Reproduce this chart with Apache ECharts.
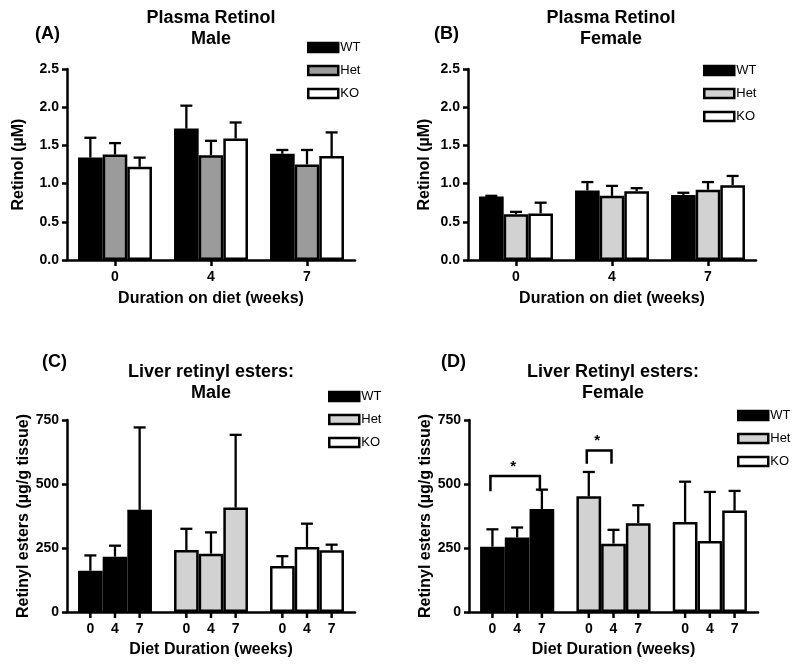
<!DOCTYPE html>
<html><head><meta charset="utf-8">
<script src="https://cdn.jsdelivr.net/npm/echarts@6/dist/echarts.min.js"></script>
<style>html,body{margin:0;padding:0;background:#fff}#c{width:800px;height:665px}</style>
</head><body><div id="c"></div>
<script>
// ---------- data ----------
const weeks = ['0', '4', '7'];
const genotypes = ['WT', 'Het', 'KO'];

// (A) Plasma retinol, male (µM): mean and SEM per week [0,4,7]
const plasmaMaleWT  = [1.34, 1.72, 1.39];
const plasmaMaleHet = [1.38, 1.37, 1.25];
const plasmaMaleKO  = [1.22, 1.59, 1.36];
const plasmaMaleWTsem  = [0.26, 0.30, 0.05];
const plasmaMaleHetsem = [0.15, 0.19, 0.19];
const plasmaMaleKOsem  = [0.12, 0.21, 0.31];

// (B) Plasma retinol, female (µM)
const plasmaFemWT  = [0.83, 0.91, 0.85];
const plasmaFemHet = [0.60, 0.84, 0.92];
const plasmaFemKO  = [0.61, 0.90, 0.98];
const plasmaFemWTsem  = [0.01, 0.11, 0.03];
const plasmaFemHetsem = [0.03, 0.13, 0.10];
const plasmaFemKOsem  = [0.14, 0.04, 0.12];

// (C) Liver retinyl esters, male (µg/g tissue) per genotype, weeks [0,4,7]
const liverMaleWT  = [161, 216, 399];
const liverMaleHet = [242, 228, 408];
const liverMaleKO  = [180, 254, 241];
const liverMaleWTsem  = [60, 43, 322];
const liverMaleHetsem = [83, 83, 284];
const liverMaleKOsem  = [38, 91, 22];

// (D) Liver retinyl esters, female (µg/g tissue)
const liverFemWT  = [255, 291, 402];
const liverFemHet = [452, 267, 347];
const liverFemKO  = [352, 277, 396];
const liverFemWTsem  = [68, 39, 76];
const liverFemHetsem = [95, 54, 70];
const liverFemKOsem  = [157, 192, 77];

// (D) significance brackets: genotype index, from week index, to week index, leg end value, bracket top value
const sigGenotype = [0, 1];
const sigFrom = [0, 0];
const sigTo = [2, 1];
const sigLeg = [472, 579];
const sigTop = [531, 631];

const plasmaTicks = [0, 0.5, 1.0, 1.5, 2.0, 2.5];
const liverTicks = [0, 250, 500, 750];

// ---------- styling ----------
const FONT = '"Liberation Sans", Arial, Helvetica, sans-serif';
const GAP = 0.23;
const DARK_HET = '#9b9b9b';
const LIGHT_HET = '#d2d2d2';
const INK = '#000';

const chart = echarts.init(document.getElementById('c'), null, {renderer: 'canvas'});

const grids = [
  {left: 67, top: 69, width: 288, height: 191},
  {left: 468, top: 69, width: 288, height: 191},
  {left: 67, top: 420, width: 288, height: 192},
  {left: 469, top: 420, width: 289, height: 192}
].map(g => Object.assign({outerBoundsMode: 'none', containLabel: false}, g));

function yAxisDef(idx, ticks, fmt, nameGap, name) {
  return {
    type: 'value', gridIndex: idx, min: ticks[0], max: ticks[ticks.length - 1],
    interval: ticks[1] - ticks[0],
    name: name, nameLocation: 'middle', nameGap: nameGap,
    nameTextStyle: {fontFamily: FONT, fontWeight: 'bold', fontSize: 16, color: INK},
    axisLine: {show: true, lineStyle: {color: INK, width: 2.5}},
    axisTick: {show: true, length: 5, lineStyle: {color: INK, width: 2.5}},
    splitLine: {show: false},
    axisLabel: {fontFamily: FONT, fontWeight: 'bold', fontSize: 14, color: INK, margin: 8, formatter: fmt}
  };
}

function xAxisDef(idx, cats, showLabels, nameGap, name) {
  return {
    type: 'category', gridIndex: idx, data: cats,
    name: name, nameLocation: 'middle', nameGap: nameGap,
    nameTextStyle: {fontFamily: FONT, fontWeight: 'bold', fontSize: 16, color: INK},
    axisLine: {show: true, onZero: false, lineStyle: {color: INK, width: 2.5}},
    axisTick: {show: showLabels, alignWithLabel: true, length: 6, lineStyle: {color: INK, width: 2.5}},
    axisLabel: {show: showLabels, fontFamily: FONT, fontWeight: 'bold', fontSize: 14, color: INK, margin: 10},
    splitLine: {show: false}
  };
}

function barX(api, cat, slot) {
  const band = api.size([1, 0])[0];
  const groupW = band * (1 - GAP);
  const bw = groupW / 3;
  return api.coord([cat, 0])[0] - groupW / 2 + bw * (slot + 0.5);
}

function errRender(withTicks) {
  return function (params, api) {
    const cat = api.value(0), slot = api.value(1), m = api.value(2), t = api.value(3);
    const x = barX(api, cat, slot);
    const yM = api.coord([cat, m])[1];
    const yT = api.coord([cat, t])[1];
    const st = {stroke: INK, lineWidth: 2.3};
    const children = [
      {type: 'line', shape: {x1: x, y1: yM, x2: x, y2: yT}, style: st},
      {type: 'line', shape: {x1: x - 6, y1: yT, x2: x + 6, y2: yT}, style: st}
    ];
    if (withTicks) {
      const y0 = api.coord([cat, 0])[1];
      children.push({type: 'line', shape: {x1: x, y1: y0, x2: x, y2: y0 + 6}, style: {stroke: INK, lineWidth: 2.5}});
    }
    return {type: 'group', children: children};
  };
}

const series = [];
const legends = [];
const borderStyle = {borderColor: INK, borderWidth: 2.5};

// Panels A & B: x = weeks, series = genotypes
function plasmaPanel(idx, prefix, means, sems, colors) {
  const errData = [];
  means.forEach((arr, s) => {
    series.push({
      type: 'bar', name: prefix + '|' + genotypes[s], xAxisIndex: idx, yAxisIndex: idx,
      data: arr, barGap: '0%', barCategoryGap: (GAP * 100) + '%',
      itemStyle: Object.assign({color: colors[s]}, borderStyle), z: 2
    });
    arr.forEach((v, c) => errData.push([c, s, v, +(v + sems[s][c]).toFixed(3)]));
  });
  series.push({
    type: 'custom', xAxisIndex: idx, yAxisIndex: idx, data: errData, z: 3, clip: false,
    encode: {x: 0, y: [2, 3]}, renderItem: errRender(false), silent: true
  });
}

// Panels C & D: x = genotypes, series = weeks, colour by genotype
function liverPanel(idx, prefix, means, sems, colors) {
  const errData = [];
  weeks.forEach((w, wi) => {
    series.push({
      type: 'bar', name: prefix + '|wk' + w, xAxisIndex: idx, yAxisIndex: idx,
      data: means.map((arr, gi) => ({value: arr[wi], itemStyle: {color: colors[gi]}})),
      barGap: '0%', barCategoryGap: (GAP * 100) + '%',
      itemStyle: Object.assign({}, borderStyle), z: 2,
      label: {show: true, position: 'bottom', distance: 10, formatter: w,
        fontFamily: FONT, fontWeight: 'bold', fontSize: 14, color: INK}
    });
  });
  means.forEach((arr, gi) => arr.forEach((v, wi) => errData.push([gi, wi, v, v + sems[gi][wi]])));
  series.push({
    type: 'custom', xAxisIndex: idx, yAxisIndex: idx, data: errData, z: 3, clip: false,
    encode: {x: 0, y: [2, 3]}, renderItem: errRender(true), silent: true
  });
  genotypes.forEach(g => series.push({type: 'scatter', name: prefix + '|' + g, xAxisIndex: idx, yAxisIndex: idx, data: []}));
}

function legendDef(prefix, left, top, colors) {
  return {
    orient: 'vertical', left: left, top: top, padding: 0, itemWidth: 30, itemHeight: 9, itemGap: 8,
    icon: 'rect', selectedMode: false,
    textStyle: {fontFamily: FONT, fontSize: 13, color: INK, lineHeight: 15, padding: [0, 0, 0, -3]},
    formatter: n => n.split('|')[1],
    data: genotypes.map((g, i) => ({name: prefix + '|' + g, icon: 'rect',
      itemStyle: {color: colors[i], borderColor: INK, borderWidth: 2.5, opacity: 1}}))
  };
}

const colA = ['#000', DARK_HET, '#fff'];
const colB = ['#000', LIGHT_HET, '#fff'];

plasmaPanel(0, 'A', [plasmaMaleWT, plasmaMaleHet, plasmaMaleKO], [plasmaMaleWTsem, plasmaMaleHetsem, plasmaMaleKOsem], colA);
plasmaPanel(1, 'B', [plasmaFemWT, plasmaFemHet, plasmaFemKO], [plasmaFemWTsem, plasmaFemHetsem, plasmaFemKOsem], colB);
liverPanel(2, 'C', [liverMaleWT, liverMaleHet, liverMaleKO], [liverMaleWTsem, liverMaleHetsem, liverMaleKOsem], colB);
liverPanel(3, 'D', [liverFemWT, liverFemHet, liverFemKO], [liverFemWTsem, liverFemHetsem, liverFemKOsem], colB);

// significance brackets in D
series.push({
  type: 'custom', xAxisIndex: 3, yAxisIndex: 3, z: 4, clip: false, silent: true,
  data: sigGenotype.map((g, i) => [g, sigFrom[i], sigTo[i], sigLeg[i], sigTop[i]]),
  encode: {x: 0, y: [3, 4]},
  renderItem: function (params, api) {
    const g = api.value(0), f = api.value(1), t = api.value(2);
    const x1 = barX(api, g, f) - 2, x2 = barX(api, g, t) - 2;
    const yL = api.coord([g, api.value(3)])[1], yT = api.coord([g, api.value(4)])[1];
    return {type: 'group', children: [
      {type: 'polyline', shape: {points: [[x1, yL], [x1, yT], [x2, yT], [x2, yL]]},
        style: {stroke: INK, lineWidth: 2.5, fill: null}},
      {type: 'text', x: (x1 + x2) / 2 - 2, y: yT - 2,
        style: {text: '*', textAlign: 'center', textVerticalAlign: 'bottom',
          font: 'bold 15px ' + FONT, fill: INK}}
    ]};
  }
});

legends.push(legendDef('A', 307, 40, colA));
legends.push(legendDef('B', 703, 63, colB));
legends.push(legendDef('C', 328, 389, colB));
legends.push(legendDef('D', 737, 408, colB));

const fmtPlasma = v => v.toFixed(1);
const fmtLiver = v => String(v);

function titleDef(text, cx, top) {
  return {text: text, left: cx, top: top, textAlign: 'center', padding: 0,
    textStyle: {fontFamily: FONT, fontWeight: 'bold', fontSize: 18, lineHeight: 21, color: INK}};
}
function labelDef(text, left, top) {
  return {text: text, left: left, top: top, padding: 0,
    textStyle: {fontFamily: FONT, fontWeight: 'bold', fontSize: 18, color: INK}};
}

chart.setOption({
  animation: false,
  backgroundColor: '#fff',
  title: [
    titleDef('Plasma Retinol\nMale', 211, 8),
    titleDef('Plasma Retinol\nFemale', 611, 8),
    titleDef('Liver retinyl esters:\nMale', 211, 362),
    titleDef('Liver Retinyl esters:\nFemale', 613, 362),
    labelDef('(A)', 35, 25),
    labelDef('(B)', 434, 25),
    labelDef('(C)', 42, 353),
    labelDef('(D)', 441, 353)
  ],
  legend: legends,
  grid: grids,
  xAxis: [
    xAxisDef(0, weeks, true, 31, 'Duration on diet (weeks)'),
    xAxisDef(1, weeks, true, 31, 'Duration on diet (weeks)'),
    xAxisDef(2, genotypes, false, 30, 'Diet Duration (weeks)'),
    xAxisDef(3, genotypes, false, 30, 'Diet Duration (weeks)')
  ],
  yAxis: [
    yAxisDef(0, plasmaTicks, fmtPlasma, 40, 'Retinol (µM)'),
    yAxisDef(1, plasmaTicks, fmtPlasma, 35, 'Retinol (µM)'),
    yAxisDef(2, liverTicks, fmtLiver, 34, 'Retinyl esters (µg/g tissue)'),
    yAxisDef(3, liverTicks, fmtLiver, 35, 'Retinyl esters (µg/g tissue)')
  ],
  series: series
});
</script>
</body></html>
